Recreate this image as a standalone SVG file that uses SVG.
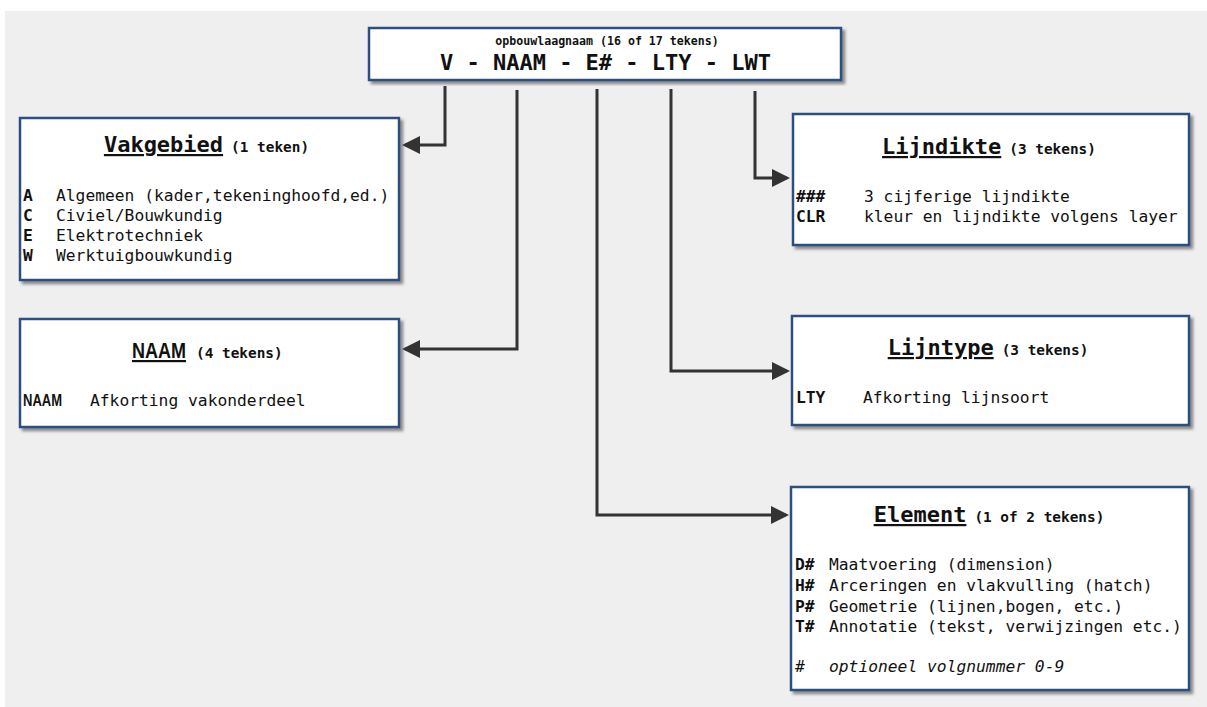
<svg xmlns="http://www.w3.org/2000/svg" width="1207" height="707" viewBox="0 0 1207 707">
<defs>
<filter id="sh" x="-5%" y="-5%" width="112%" height="115%">
<feDropShadow dx="3" dy="3" stdDeviation="1.8" flood-color="#444" flood-opacity="0.6"/>
</filter>
<marker id="ah" markerWidth="6" markerHeight="6" refX="5" refY="3" orient="auto" markerUnits="strokeWidth">
<path d="M0,0 L6,3 L0,6 Z" fill="#333"/>
</marker>
<style>
.box{fill:#fff;stroke:#2c5080;stroke-width:2.5;filter:url(#sh)}
.m{font-family:"DejaVu Sans Mono","Liberation Mono",monospace;fill:#111}
.t{font-size:22px;font-weight:bold;text-decoration:underline}
.s{font-size:14.4px;font-weight:bold}
.b{font-size:16.3px;font-weight:bold}
.r{font-size:16.3px}
.n{font-family:"Liberation Sans Narrow","Liberation Sans",sans-serif;font-weight:bold}
.c{fill:none;stroke:#333;stroke-width:3;stroke-linejoin:miter}
</style>
</defs>
<rect x="5" y="11" width="1202" height="696" fill="#efefef"/>
<g id="connectors">
<path class="c" d="M445,86 V145 H405" marker-end="url(#ah)"/>
<path class="c" d="M517,90 V349 H405" marker-end="url(#ah)"/>
<path class="c" d="M597,89 V515 H786" marker-end="url(#ah)"/>
<path class="c" d="M671,89 V371 H787" marker-end="url(#ah)"/>
<path class="c" d="M755,91 V178 H787" marker-end="url(#ah)"/>
</g>
<g id="header">
<rect class="box" x="369" y="28" width="472" height="52"/>
<text class="m" x="607" y="45" text-anchor="middle" font-size="11.6" font-weight="bold">opbouwlaagnaam (16 of 17 tekens)</text>
<text class="m" x="605.5" y="70" text-anchor="middle" font-size="22" font-weight="bold">V - NAAM - E# - LTY - LWT</text>
</g>
<g id="vakgebied">
<rect class="box" x="20" y="118" width="379" height="162"/>
<text class="m" x="206.5" y="152" text-anchor="middle"><tspan class="t">Vakgebied</tspan><tspan class="s" dx="8">(1 teken)</tspan></text>
<text class="m b" x="23" y="201">A</text>
<text class="m r" x="56" y="201">Algemeen (kader,tekeninghoofd,ed.)</text>
<text class="m b" x="23" y="221">C</text>
<text class="m r" x="56" y="221">Civiel/Bouwkundig</text>
<text class="m b" x="23" y="241">E</text>
<text class="m r" x="56" y="241">Elektrotechniek</text>
<text class="m b" x="23" y="261">W</text>
<text class="m r" x="56" y="261">Werktuigbouwkundig</text>
</g>
<g id="naam">
<rect class="box" x="20" y="319" width="379" height="108"/>
<text class="n" x="132" y="358" font-size="22" fill="#111" text-decoration="underline" textLength="54" lengthAdjust="spacingAndGlyphs">NAAM</text>
<text class="m s" x="196" y="358">(4 tekens)</text>
<text class="n" x="23" y="406" font-size="16" fill="#111" textLength="39" lengthAdjust="spacingAndGlyphs">NAAM</text>
<text class="m r" x="90" y="406">Afkorting vakonderdeel</text>
</g>
<g id="lijndikte">
<rect class="box" x="793" y="114" width="396" height="131"/>
<text class="m" x="989" y="154" text-anchor="middle"><tspan class="t">Lijndikte</tspan><tspan class="s" dx="8">(3 tekens)</tspan></text>
<text class="m b" x="796" y="202">###</text>
<text class="m r" x="864" y="202">3 cijferige lijndikte</text>
<text class="m b" x="796" y="222">CLR</text>
<text class="m r" x="864" y="222">kleur en lijndikte volgens layer</text>
</g>
<g id="lijntype">
<rect class="box" x="792" y="316" width="397" height="109"/>
<text class="m" x="988" y="355" text-anchor="middle"><tspan class="t">Lijntype</tspan><tspan class="s" dx="8">(3 tekens)</tspan></text>
<text class="m b" x="796" y="403">LTY</text>
<text class="m r" x="863" y="403">Afkorting lijnsoort</text>
</g>
<g id="element">
<rect class="box" x="791" y="487" width="398" height="203"/>
<text class="m" x="989" y="522" text-anchor="middle"><tspan class="t">Element</tspan><tspan class="s" dx="8">(1 of 2 tekens)</tspan></text>
<text class="m b" x="795" y="570">D#</text>
<text class="m r" x="829" y="570">Maatvoering (dimension)</text>
<text class="m b" x="795" y="591">H#</text>
<text class="m r" x="829" y="591">Arceringen en vlakvulling (hatch)</text>
<text class="m b" x="795" y="612">P#</text>
<text class="m r" x="829" y="612">Geometrie (lijnen,bogen, etc.)</text>
<text class="m b" x="795" y="632">T#</text>
<text class="m r" x="829" y="632">Annotatie (tekst, verwijzingen etc.)</text>
<text class="m r" x="795" y="672">#</text>
<text class="m r" x="829" y="672" font-style="italic">optioneel volgnummer 0-9</text>
</g>
</svg>
